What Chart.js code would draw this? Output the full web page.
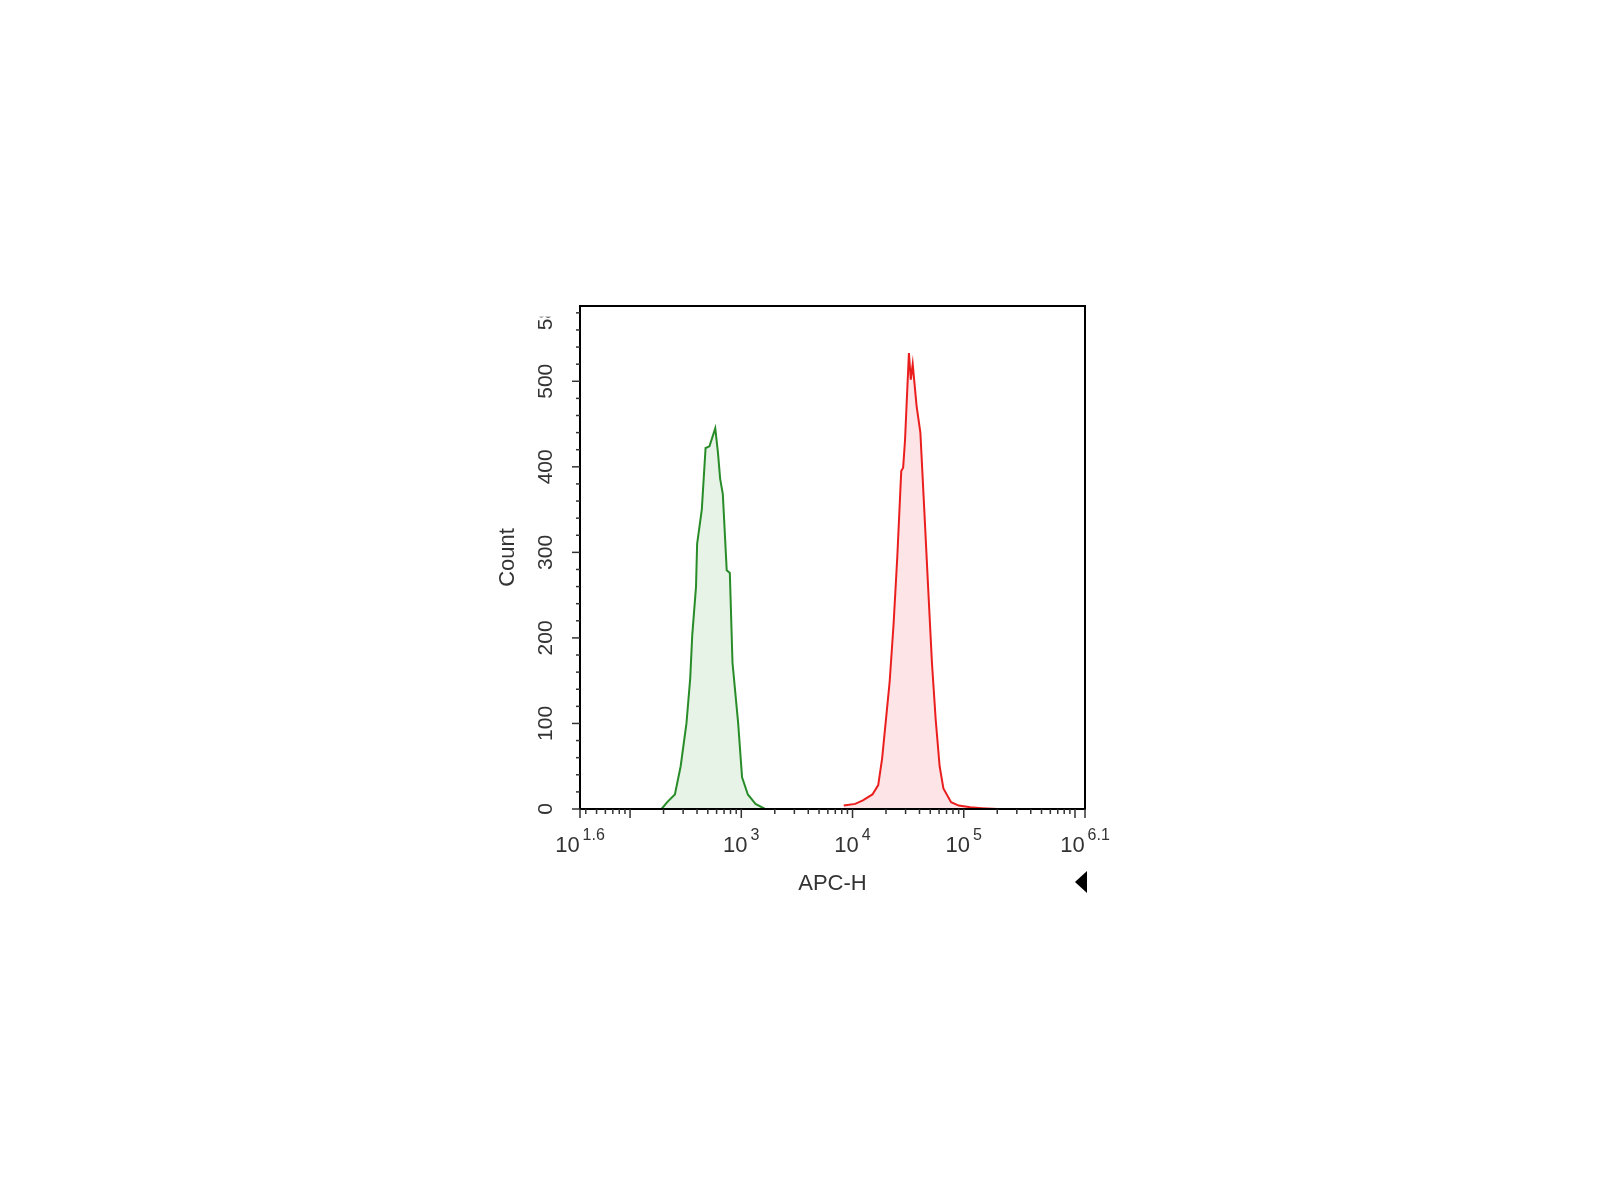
<!DOCTYPE html>
<html>
<head>
<meta charset="utf-8">
<script src="https://cdn.jsdelivr.net/npm/chart.js@4"></script>
<style>
  html, body { margin: 0; padding: 0; background: #fff; }
  #wrap { width: 1600px; height: 1200px; }
</style>
</head>
<body>
<div id="wrap"><canvas id="chart" width="1600" height="1200"></canvas></div>
<script>
// Histogram data: x as log10 exponent of APC-H, y as count
const greenExp = [2.283, 2.334, 2.403, 2.455, 2.507, 2.541, 2.559, 2.593, 2.603, 2.645, 2.679, 2.714, 2.741, 2.766, 2.790, 2.810, 2.834, 2.869, 2.897, 2.921, 2.972, 3.007, 3.059, 3.128, 3.214];
const greenCount = [0, 8, 17, 50, 100, 153, 203, 260, 310, 350, 422, 424, 435, 445, 417, 386, 368, 279, 276, 171, 100, 37, 17, 6, 0];

const redExp = [3.921, 4.024, 4.093, 4.179, 4.231, 4.266, 4.300, 4.334, 4.369, 4.403, 4.438, 4.455, 4.472, 4.490, 4.507, 4.524, 4.541, 4.576, 4.610, 4.645, 4.679, 4.714, 4.748, 4.783, 4.817, 4.886, 4.955, 5.059, 5.162, 5.300];
const redCount = [4, 6, 10, 17, 28, 59, 104, 149, 216, 296, 395, 399, 431, 484, 533, 502, 520, 471, 440, 350, 261, 171, 104, 50, 24, 8, 4, 2, 1, 0];

// Axis ticks
const xLabelExps = [1.6, 3, 4, 5, 6.1];
const xMajorExps = [2, 3, 4, 5, 6];
const yLabels = [0, 100, 200, 300, 400, 500, 580];
const xMin = 1.55, xMax = 6.09;
const yMax = 588;

const toPoints = (ex, cs) => ex.map((e, i) => ({ x: Math.pow(10, e), y: cs[i] }));

// Custom axes: frame, ticks and flow-cytometry style labels
const axesPlugin = {
    id: 'axesPlugin',
    afterDraw(chart) {
        const { ctx, chartArea: a, scales } = chart;
        const xs = scales.x, ys = scales.y;
        ctx.save();
        ctx.strokeStyle = '#000';
        ctx.lineWidth = 2;
        ctx.strokeRect(a.left, a.top, a.right - a.left, a.bottom - a.top);

        // x ticks
        ctx.lineWidth = 1.5;
        ctx.strokeStyle = '#333';
        for (let d = 1; d <= 6; d++) {
            for (let k = 1; k <= 9; k++) {
                const v = k * Math.pow(10, d);
                const e = Math.log10(v);
                if (e < xMin || e > xMax) continue;
                const px = xs.getPixelForValue(v);
                const len = k === 1 ? 9 : 5;
                ctx.beginPath();
                ctx.moveTo(px, a.bottom);
                ctx.lineTo(px, a.bottom + len);
                ctx.stroke();
            }
        }
        [xMin, xMax].forEach(e => {
            const px = xs.getPixelForValue(Math.pow(10, e));
            ctx.beginPath();
            ctx.moveTo(px, a.bottom);
            ctx.lineTo(px, a.bottom + 9);
            ctx.stroke();
        });

        // y ticks
        for (let v = 0; v <= yMax; v += 20) {
            const py = ys.getPixelForValue(v);
            const len = v % 100 === 0 ? 8 : 4;
            ctx.beginPath();
            ctx.moveTo(a.left, py);
            ctx.lineTo(a.left - len, py);
            ctx.stroke();
        }

        // x labels with superscripts
        ctx.fillStyle = '#333';
        ctx.textBaseline = 'alphabetic';
        xLabelExps.forEach((e, i) => {
            let px = xs.getPixelForValue(Math.pow(10, e));
            if (i === 0) px = a.left;
            if (i === xLabelExps.length - 1) px = a.right;
            ctx.font = '22px "Liberation Sans", Arial, sans-serif';
            const base = '10';
            const sup = String(e);
            const bw = ctx.measureText(base).width;
            ctx.font = '16px "Liberation Sans", Arial, sans-serif';
            const sw = ctx.measureText(sup).width;
            const start = px - (bw + sw + 3) / 2;
            ctx.font = '22px "Liberation Sans", Arial, sans-serif';
            ctx.textAlign = 'left';
            ctx.fillText(base, start, a.bottom + 43);
            ctx.font = '16px "Liberation Sans", Arial, sans-serif';
            ctx.fillText(sup, start + bw + 3, a.bottom + 31);
        });

        // y labels rotated
        ctx.font = '21px "Liberation Sans", Arial, sans-serif';
        ctx.textAlign = 'center';
        ctx.textBaseline = 'middle';
        yLabels.forEach(v => {
            const py = ys.getPixelForValue(v);
            ctx.save();
            ctx.translate(a.left - 34, py);
            ctx.rotate(-Math.PI / 2);
            if (v === 580) {
                ctx.beginPath();
                ctx.rect(-40, -20, 40 + (a.top - py) + 3, 40);
                ctx.clip();
            }
            ctx.fillText(String(v), 0, 0);
            ctx.restore();
        });

        // axis titles
        ctx.font = '22px "Liberation Sans", Arial, sans-serif';
        ctx.save();
        ctx.translate(a.left - 72, (a.top + a.bottom) / 2 + 0);
        ctx.rotate(-Math.PI / 2);
        ctx.fillText('Count', 0, 0);
        ctx.restore();
        ctx.fillText('APC-H', (a.left + a.right) / 2 - 0, a.bottom + 75);

        // small gate marker triangle
        ctx.fillStyle = '#000';
        ctx.beginPath();
        ctx.moveTo(a.right - 10, a.bottom + 73);
        ctx.lineTo(a.right + 2, a.bottom + 62);
        ctx.lineTo(a.right + 2, a.bottom + 84);
        ctx.closePath();
        ctx.fill();
        ctx.restore();
    }
};

new Chart(document.getElementById('chart'), {
    type: 'line',
    data: {
        datasets: [{
            data: toPoints(greenExp, greenCount),
            borderColor: 'rgba(40, 140, 40, 1)',
            backgroundColor: 'rgba(120, 190, 120, 0.18)',
            borderWidth: 2,
            pointRadius: 0,
            tension: 0,
            fill: 'origin'
        }, {
            data: toPoints(redExp, redCount),
            borderColor: 'rgba(235, 30, 30, 1)',
            backgroundColor: 'rgba(245, 120, 130, 0.2)',
            borderWidth: 2,
            pointRadius: 0,
            tension: 0,
            fill: 'origin'
        }]
    },
    options: {
        responsive: false,
        animation: false,
        layout: { padding: { left: 580, right: 515, top: 306, bottom: 391 } },
        plugins: { legend: { display: false }, tooltip: { enabled: false } },
        scales: {
            x: { type: 'logarithmic', min: Math.pow(10, xMin), max: Math.pow(10, xMax), display: false },
            y: { type: 'linear', min: 0, max: yMax, display: false }
        }
    },
    plugins: [axesPlugin]
});
</script>
</body>
</html>
